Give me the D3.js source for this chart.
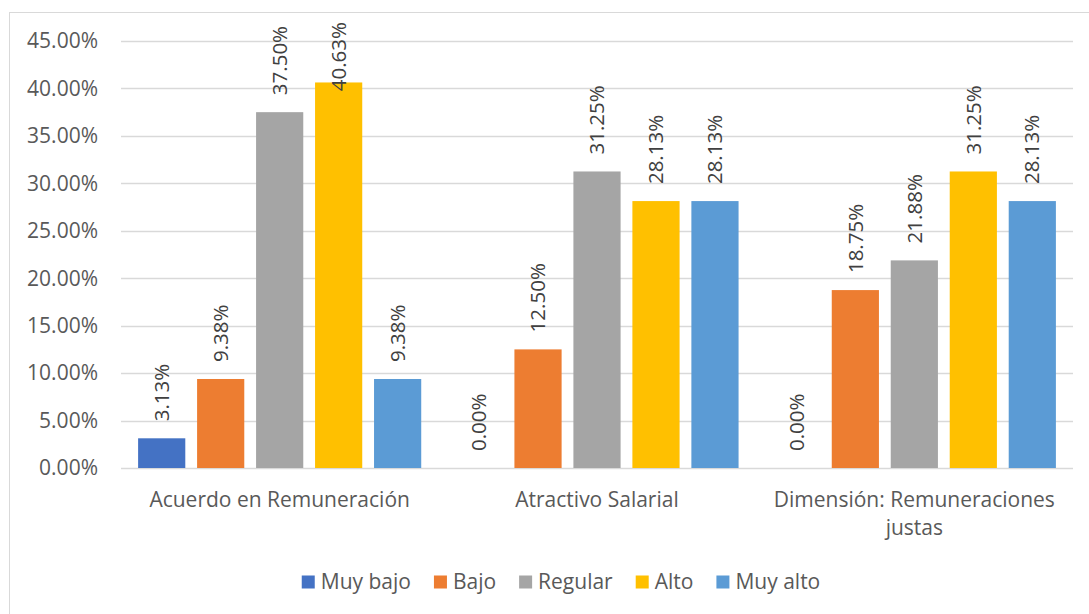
<!DOCTYPE html>
<html>
<head>
<meta charset="utf-8">
<script src="https://cdn.jsdelivr.net/npm/d3@7"></script>
<style>
  body { margin: 0; background: #fff; }
</style>
</head>
<body>
<div id="chart"></div>
<script>
const categories = ["Acuerdo en Remuneración", "Atractivo Salarial", "Dimensión: Remuneraciones justas"];
const series = ["Muy bajo", "Bajo", "Regular", "Alto", "Muy alto"];
const colors = ["#4472C4", "#ED7D31", "#A5A5A5", "#FFC000", "#5B9BD5"];
const muyBajo = [3.13, 0.00, 0.00];
const bajo = [9.38, 12.50, 18.75];
const regular = [37.50, 31.25, 21.88];
const alto = [40.63, 28.13, 31.25];
const muyAlto = [9.38, 28.13, 28.13];
const yTicks = [0, 5, 10, 15, 20, 25, 30, 35, 40, 45];

const values = [muyBajo, bajo, regular, alto, muyAlto];

const width = 1089;
const height = 614;
const font = "'Open Sans', sans-serif";
const textColor = "#595959";
const fs = "21px";

const svg = d3.select("#chart").append("svg")
  .attr("width", width)
  .attr("height", height)
  .style("font-family", font);

// chart border
svg.append("rect")
  .attr("x", 9.5)
  .attr("y", 12.5)
  .attr("width", width)
  .attr("height", height)
  .attr("fill", "#fff")
  .attr("stroke", "#d9d9d9");

const margin = { left: 121, right: 16, top: 41, bottom: 146 };
const plotW = width - margin.left - margin.right;
const plotTop = margin.top;
const plotBottom = height - margin.bottom;

const y = d3.scaleLinear().domain([0, 45]).range([plotBottom, plotTop]);

const x0 = d3.scaleBand()
  .domain(categories)
  .range([margin.left, margin.left + plotW])
  .padding(0);

const x1 = d3.scaleBand()
  .domain(series)
  .range([0, x0.bandwidth()])
  .paddingInner(0.2)
  .paddingOuter(0.29);

// gridlines
svg.append("g")
  .selectAll("line")
  .data(yTicks)
  .join("line")
    .attr("x1", margin.left)
    .attr("x2", margin.left + plotW)
    .attr("y1", d => Math.round(y(d)) + 0.5)
    .attr("y2", d => Math.round(y(d)) + 0.5)
    .attr("stroke", "#d9d9d9")
    .attr("stroke-width", 1.5);

// y tick labels
svg.append("g")
  .selectAll("text")
  .data(yTicks)
  .join("text")
    .attr("x", 98)
    .attr("y", d => y(d))
    .attr("dy", "0.35em")
    .attr("text-anchor", "end")
    .style("font-size", fs)
    .style("fill", textColor)
    .text(d => d.toFixed(2) + "%");

// bars
const groups = svg.append("g")
  .selectAll("g")
  .data(series)
  .join("g")
    .attr("fill", (d, i) => colors[i]);

groups.selectAll("rect")
  .data((s, i) => categories.map((c, j) => ({ cat: c, s: s, v: values[i][j] })))
  .join("rect")
    .attr("x", d => x0(d.cat) + x1(d.s))
    .attr("y", d => y(d.v))
    .attr("width", x1.bandwidth())
    .attr("height", d => y(0) - y(d.v));

// data labels, kept inside the chart area at the top
const labelTop = 22;
svg.append("g")
  .selectAll("text")
  .data(series.flatMap((s, i) => categories.map((c, j) => ({ cat: c, s: s, v: values[i][j] }))))
  .join("text")
    .style("font-size", "20.5px")
    .style("fill", "#404040")
    .attr("text-anchor", "start")
    .attr("dy", "0.35em")
    .text(d => d.v.toFixed(2) + "%")
    .each(function(d) {
      const len = this.getComputedTextLength();
      let base = y(d.v) - 17;
      if (base - len < labelTop) base = labelTop + len;
      const cx = x0(d.cat) + x1(d.s) + x1.bandwidth() / 2;
      d3.select(this).attr("transform", `translate(${cx},${base}) rotate(-90)`);
    });

// category labels (wrapped)
const catLines = {
  "Acuerdo en Remuneración": ["Acuerdo en Remuneración"],
  "Atractivo Salarial": ["Atractivo Salarial"],
  "Dimensión: Remuneraciones justas": ["Dimensión: Remuneraciones", "justas"]
};
const catG = svg.append("g");
categories.forEach(c => {
  const t = catG.append("text")
    .attr("x", x0(c) + x0.bandwidth() / 2)
    .attr("y", 507)
    .attr("text-anchor", "middle")
    .style("font-size", fs)
    .style("fill", textColor);
  catLines[c].forEach((line, k) => {
    t.append("tspan")
      .attr("x", x0(c) + x0.bandwidth() / 2)
      .attr("dy", k === 0 ? 0 : 28)
      .text(line);
  });
});

// legend, centred
const legend = svg.append("g");
let lx = 0;
series.forEach((s, i) => {
  const item = legend.append("g").attr("transform", `translate(${lx},0)`);
  item.append("rect")
    .attr("x", 0)
    .attr("y", -6.5)
    .attr("width", 13)
    .attr("height", 13)
    .attr("fill", colors[i]);
  const t = item.append("text")
    .attr("x", 19)
    .attr("y", 0)
    .attr("dy", "0.35em")
    .style("font-size", fs)
    .style("fill", textColor)
    .text(s);
  lx += 19 + t.node().getComputedTextLength() + (i < series.length - 1 ? 23 : 0);
});
legend.attr("transform", `translate(${561 - lx / 2},582)`);
</script>
</body>
</html>
